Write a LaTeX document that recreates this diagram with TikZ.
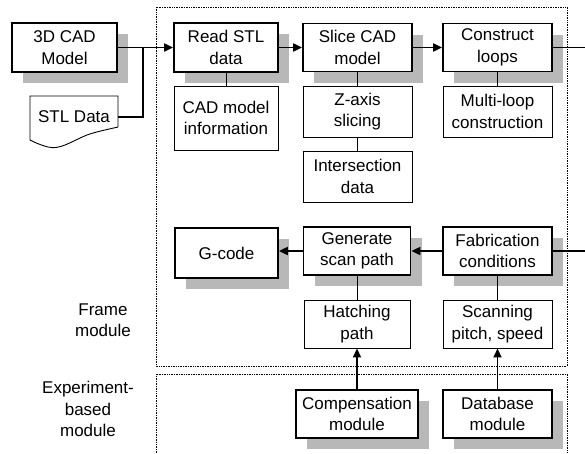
\documentclass[tikz,border=0pt]{standalone}
\usepackage{fontspec}
\setmainfont{Liberation Sans}
\usetikzlibrary{arrows.meta,shadows}
\begin{document}
\begin{tikzpicture}[x=1pt,y=-1pt,
  every node/.style={font=\fontsize{17}{21.5}\selectfont, align=center, inner sep=1pt},
  mainbox/.style={draw, line width=1.7pt, fill=white,
    drop shadow={shadow xshift=11pt, shadow yshift=-11pt, fill=black!28, opacity=1}},
  subbox/.style={draw, line width=0.9pt, fill=white},
  flow/.style={line width=1.8pt, -{Triangle[length=9pt,width=8pt]}},
  plainflow/.style={line width=1.8pt},
  link/.style={line width=0.8pt},
  frame/.style={densely dotted, line width=0.7pt}
]
\useasboundingbox (0,0) rectangle (585,453);

% module frames
\draw[frame] (156,7) rectangle (567,366);
\draw[frame] (156,453) -- (156,374) -- (567,374) -- (567,453);

% module captions
\node (lblframe) at (103,320) {Frame\\module};
\node (lblexp) at (88,409) {Experiment-\\based\\module};

% inputs
\node[mainbox, minimum width=105pt, minimum height=49pt] (cad3d) at (64.5,47.5) {3D CAD\\Model};
\node[minimum width=88pt, minimum height=30pt] (stl) at (74,117) {STL Data};
\draw[line width=0.9pt] (30,96) -- (118,96) -- (118,127)
  .. controls (105,130) and (95,132) .. (87,135)
  .. controls (70,142) and (60,150) .. (48,147)
  .. controls (40,145) and (34,142) .. (30,140) -- cycle;

% upper row
\node[mainbox, minimum width=104pt, minimum height=49pt] (read) at (226,47.5) {Read STL\\data};
\node[subbox, minimum width=104pt, minimum height=64pt] (cadinfo) at (226,118) {CAD model\\information};
\node[mainbox, minimum width=109pt, minimum height=48pt] (slice) at (357.5,47.5) {Slice CAD\\model};
\node[subbox, minimum width=109pt, minimum height=51pt] (zaxis) at (357.5,111.5) {Z-axis\\slicing};
\node[subbox, minimum width=109pt, minimum height=51pt] (inter) at (357.5,176.5) {Intersection\\data};
\node[mainbox, minimum width=109pt, minimum height=48pt] (loops) at (497.5,47.5) {Construct\\loops};
\node[subbox, minimum width=109pt, minimum height=51pt] (multi) at (497.5,111.5) {Multi-loop\\construction};

% lower row
\node[mainbox, minimum width=103pt, minimum height=50pt] (gcode) at (226.5,253) {G-code};
\node[mainbox, minimum width=107pt, minimum height=48pt] (gen) at (357,251) {Generate\\scan path};
\node[mainbox, minimum width=109pt, minimum height=48pt] (fab) at (497.5,251) {Fabrication\\conditions};
\node[subbox, minimum width=106pt, minimum height=48pt] (hatch) at (357,324) {Hatching\\path};
\node[subbox, minimum width=109pt, minimum height=48pt] (scan) at (497.5,324) {Scanning\\pitch, speed};

% experiment-based modules
\node[mainbox, minimum width=122pt, minimum height=48pt] (comp) at (357,414) {Compensation\\module};
\node[mainbox, minimum width=109pt, minimum height=48pt] (db) at (497.5,414) {Database\\module};

% connector ends
\coordinate (jn) at (143,47.5);
\coordinate (outR) at (585,47.5);
\coordinate (inR) at (585,251);

% connectors
\draw[flow] (cad3d.east) -- (read.west);
\draw[plainflow] (stl.east) -| (jn);
\draw[flow] (read.east) -- (slice.west);
\draw[flow] (slice.east) -- (loops.west);
\draw[plainflow] (loops.east) -- (outR);
\draw[link] (read.south) -- (cadinfo.north);
\draw[link] (slice.south) -- (zaxis.north);
\draw[link] (zaxis.south) -- (inter.north);
\draw[link] (loops.south) -- (multi.north);

\draw[plainflow] (inR) -- (fab.east);
\draw[flow] (fab.west) -- (gen.east);
\draw[flow] (gen.west) -- (gcode.east |- gen.west);
\draw[link] (hatch.north) -- (gen.south);
\draw[link] (scan.north) -- (fab.south);
\draw[flow] (comp.north) -- (hatch.south);
\draw[flow] (db.north) -- (scan.south);
\end{tikzpicture}
\end{document}
